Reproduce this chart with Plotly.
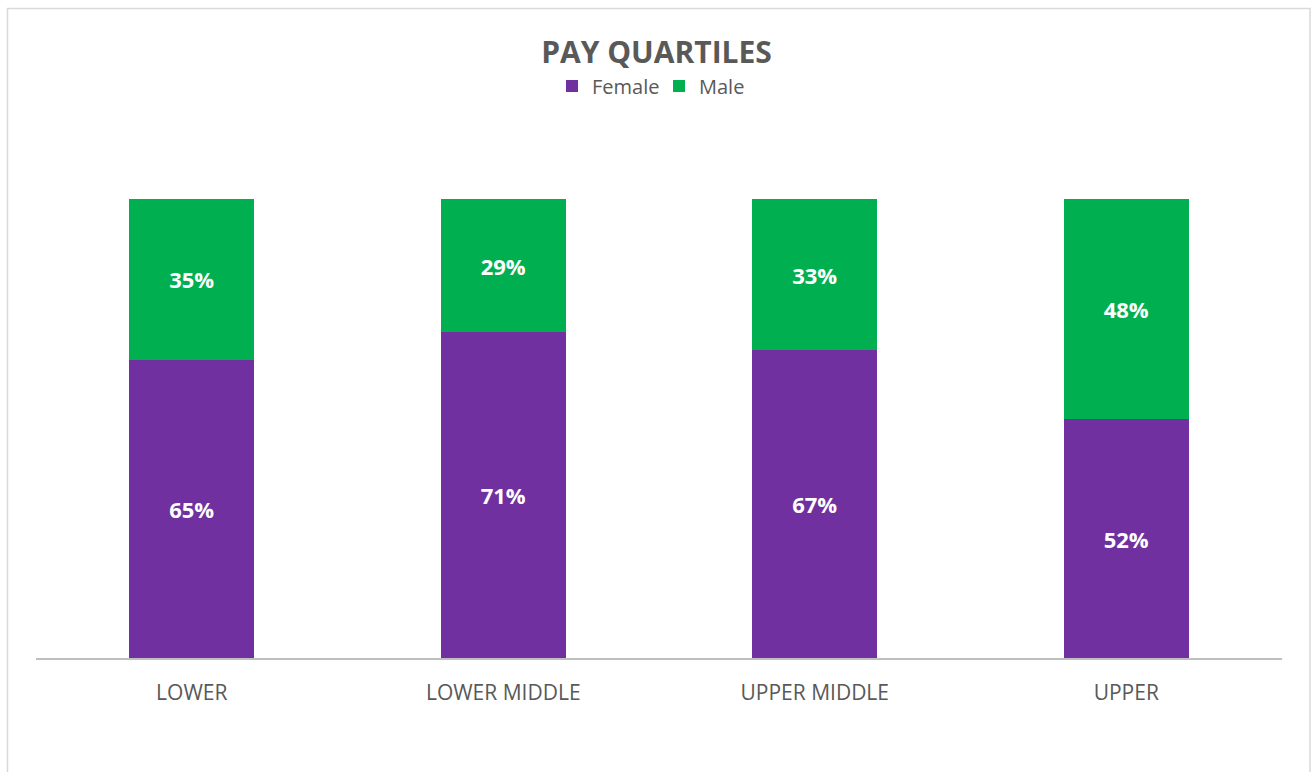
import plotly.graph_objects as go

categories = ["LOWER", "LOWER MIDDLE", "UPPER MIDDLE", "UPPER"]
female = [65, 71, 67, 52]
male = [35, 29, 33, 48]

W, H = 1313, 772
L, R, T, B = 36, 1313 - 1282, 199, 772 - 658
plot_w = W - L - R
plot_h = H - T - B

def px_x(x):
    return (x - L) / plot_w

def px_y(y):
    return (H - B - y) / plot_h

fig = go.Figure()
for name, vals, col in [("Female", female, "#7030A0"), ("Male", male, "#00B050")]:
    fig.add_trace(go.Bar(
        name=name, x=categories, y=[v / 100 for v in vals],
        marker=dict(color=col, line=dict(width=0)),
        text=[f"{v}%" for v in vals], textposition="inside", insidetextanchor="middle",
        textfont=dict(family="Open Sans", size=22, color="white", weight="bold"),
        hoverinfo="skip",
    ))

fig.update_layout(
    width=W, height=H,
    barmode="stack", bargap=0.6,
    margin=dict(l=L, r=R, t=T, b=B, autoexpand=False),
    paper_bgcolor="white", plot_bgcolor="white",
    font=dict(family="Open Sans", color="#595959"),
    title=dict(text="<b>PAY QUARTILES</b>", x=0.5, xanchor="center",
               y=1 - 52 / H, yanchor="middle",
               font=dict(family="Open Sans", size=30, color="#595959")),
    legend=dict(orientation="h", x=0.5, xanchor="center", y=px_y(86), yanchor="middle",
                font=dict(family="Open Sans", size=20, color="#595959"),
                itemwidth=30, entrywidth=62, entrywidthmode="pixels",
                traceorder="normal", bgcolor="rgba(0,0,0,0)"),
    xaxis=dict(showline=True, linecolor="#BFBFBF", linewidth=1.5, showgrid=False,
               ticks="", tickfont=dict(family="Open Sans", size=21, color="#595959"),
               ticklabelstandoff=15, zeroline=False),
    yaxis=dict(range=[0, 1], visible=False, showgrid=False, zeroline=False),
    shapes=[dict(type="rect", xref="paper", yref="paper",
                 x0=px_x(7.5), x1=px_x(1310), y0=px_y(800), y1=px_y(8.5),
                 line=dict(color="#D9D9D9", width=1.5), fillcolor="rgba(0,0,0,0)", layer="below")],
)

fig.write_html("out.html", config={"displayModeBar": False},
               post_script="document.body.style.margin='0';document.body.style.overflow='hidden';")
